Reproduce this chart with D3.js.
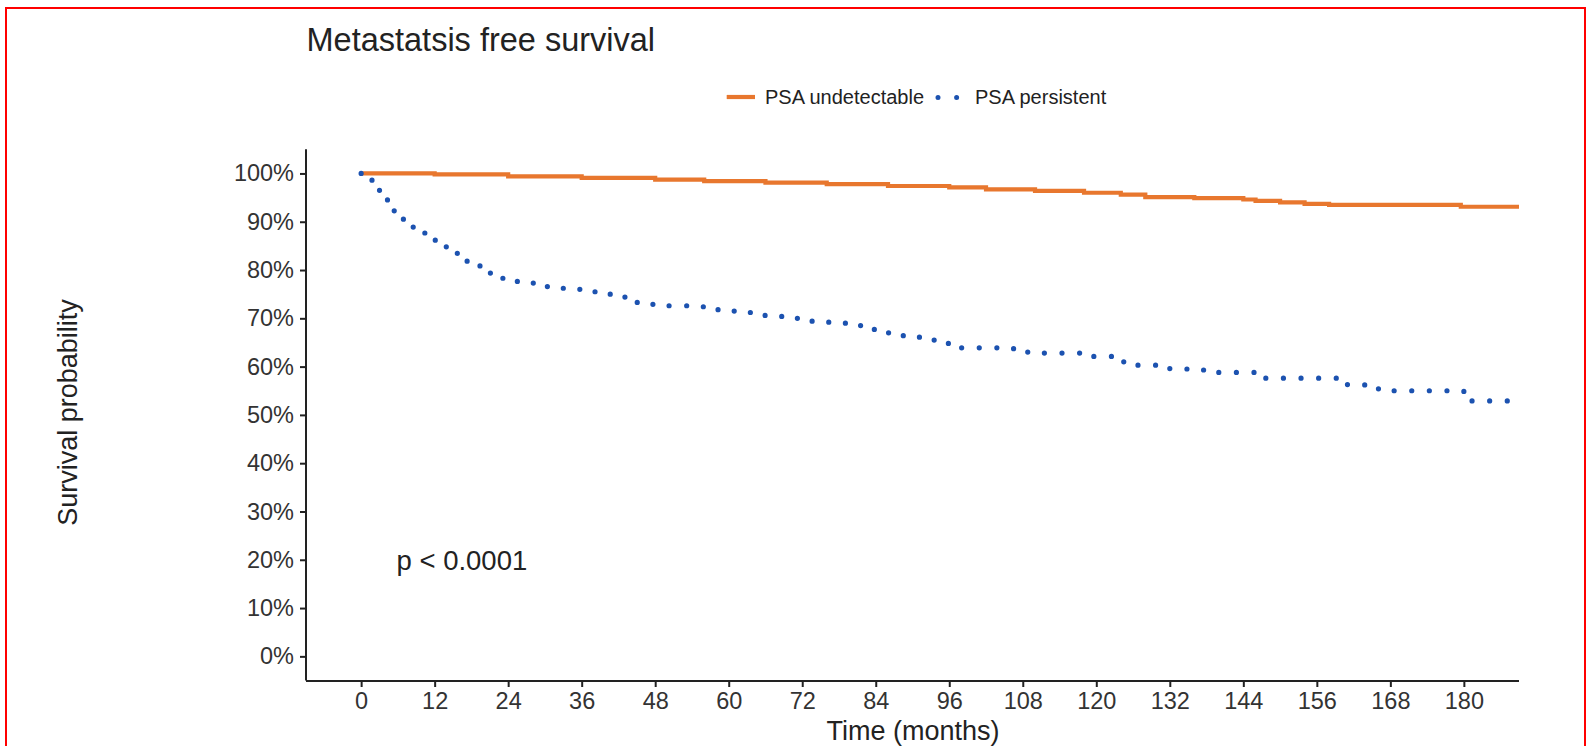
<!DOCTYPE html>
<html>
<head>
<meta charset="utf-8">
<script src="https://cdn.jsdelivr.net/npm/d3@7"></script>
<style>
  html, body { margin: 0; padding: 0; background: #fff; }
  svg { display: block; }
  text { font-family: "Liberation Sans", Arial, Helvetica, sans-serif; }
</style>
</head>
<body>
<svg id="chart" width="1591" height="746"></svg>
<script>
// ---- data ----
const title = "Metastatsis free survival";
const seriesNames = ["PSA undetectable", "PSA persistent"];
const xTicks = [0, 12, 24, 36, 48, 60, 72, 84, 96, 108, 120, 132, 144, 156, 168, 180];
const yTicks = [0, 0.1, 0.2, 0.3, 0.4, 0.5, 0.6, 0.7, 0.8, 0.9, 1.0];
const pText = "p < 0.0001";

const undetectTime = [0, 12, 24, 36, 48, 56, 66, 76, 86, 96, 102, 110, 118, 124, 128, 136, 144, 146, 150, 154, 158, 170, 179.5, 189];
const undetectSurv = [1.000, 0.998, 0.994, 0.991, 0.987, 0.984, 0.981, 0.978, 0.974, 0.971, 0.967, 0.964, 0.960, 0.956, 0.951, 0.949, 0.946, 0.943, 0.940, 0.937, 0.935, 0.935, 0.931, 0.931];

const persistTime = [0, 1.5, 3, 4.3, 5.4, 6.9, 8.5, 10.4, 12.1, 13.9, 15.7, 17.3, 19.4, 21.1, 23.1, 25.5, 28.1, 30.4, 33, 35.8, 39, 41.3, 43.3, 45.9, 49, 55.5, 57.4, 60, 62.4, 64.8, 67.8, 70.1, 72.6, 75.2, 78, 80.3, 82.8, 85.5, 87.7, 90.3, 92.6, 95.1, 97.3, 106.5, 109.1, 117.4, 122.8, 124.3, 126.6, 132, 134.7, 137.3, 139.8, 147.5, 161, 165.9, 168.5, 180, 189];
const persistSurv = [1.000, 0.986, 0.962, 0.939, 0.919, 0.900, 0.888, 0.875, 0.858, 0.845, 0.831, 0.817, 0.806, 0.793, 0.783, 0.776, 0.771, 0.765, 0.760, 0.755, 0.750, 0.744, 0.733, 0.729, 0.726, 0.724, 0.718, 0.715, 0.712, 0.706, 0.704, 0.700, 0.694, 0.692, 0.690, 0.685, 0.677, 0.670, 0.664, 0.661, 0.655, 0.648, 0.639, 0.630, 0.628, 0.621, 0.615, 0.610, 0.603, 0.596, 0.595, 0.593, 0.588, 0.576, 0.562, 0.554, 0.550, 0.529, 0.529];

const colors = ["#E8772E", "#1C52B0"];

// ---- drawing ----
const svg = d3.select("#chart");

// red frame
svg.append("rect")
  .attr("x", 6).attr("y", 8).attr("width", 1579).attr("height", 760)
  .attr("fill", "none").attr("stroke", "#ff0000").attr("stroke-width", 2);

const x = d3.scaleLinear().domain([-9, 189]).range([306, 1519]);
const y = d3.scaleLinear().domain([-0.05, 1.05]).range([680.5, 149.3]);

const textColor = "#333333";

// clip
svg.append("defs").append("clipPath").attr("id", "panel")
  .append("rect").attr("x", 306).attr("y", 140).attr("width", 1519 - 306).attr("height", 545);

const line = d3.line().x(d => x(d[0])).y(d => y(d[1])).curve(d3.curveStepAfter);

const g = svg.append("g").attr("clip-path", "url(#panel)");
g.append("path")
  .datum(undetectTime.map((t, i) => [t, undetectSurv[i]]))
  .attr("d", line).attr("fill", "none")
  .attr("stroke", colors[0]).attr("stroke-width", 4.2);
g.append("path")
  .datum(persistTime.map((t, i) => [t, persistSurv[i]]))
  .attr("d", line).attr("fill", "none")
  .attr("stroke", colors[1]).attr("stroke-width", 5.2)
  .attr("stroke-linecap", "round")
  .attr("stroke-dasharray", "0.01 17.6");

// axes
const xAxis = svg.append("g").attr("transform", "translate(0,681)")
  .call(d3.axisBottom(x).tickValues(xTicks).tickSize(6).tickPadding(5).tickSizeOuter(0));
const yAxis = svg.append("g").attr("transform", "translate(306,0)")
  .call(d3.axisLeft(y).tickValues(yTicks).tickSize(6).tickPadding(6).tickSizeOuter(0)
    .tickFormat(d3.format(".0%")));

[xAxis, yAxis].forEach(ax => {
  ax.select(".domain").attr("stroke", "#222").attr("stroke-width", 2);
  ax.selectAll(".tick line").attr("stroke", "#222").attr("stroke-width", 2);
  ax.selectAll(".tick text").attr("fill", textColor).style("font-size", "23.5px")
    .style("font-family", "'Liberation Sans', Arial, sans-serif");
});
xAxis.select(".domain").attr("d", `M${x(-9)},0H${x(189)}`);
yAxis.select(".domain").attr("d", `M0,${y(-0.05)}V${y(1.05)}`);

// title
svg.append("text").attr("x", 306.5).attr("y", 50.5)
  .attr("fill", "#222").style("font-size", "32.5px").text(title);

// axis titles
svg.append("text").attr("x", 913).attr("y", 740)
  .attr("text-anchor", "middle").attr("fill", "#222").style("font-size", "27px")
  .text("Time (months)");
svg.append("text")
  .attr("transform", "translate(77,412.5) rotate(-90)")
  .attr("text-anchor", "middle").attr("fill", "#222").style("font-size", "27px")
  .text("Survival probability");

// p value
svg.append("text").attr("x", 396.5).attr("y", 570)
  .attr("fill", "#222").style("font-size", "27.5px").text(pText);

// legend
const leg = svg.append("g");
leg.append("line").attr("x1", 726.7).attr("x2", 755).attr("y1", 97).attr("y2", 97)
  .attr("stroke", colors[0]).attr("stroke-width", 4.2);
leg.append("text").attr("x", 765).attr("y", 104.2).attr("fill", "#222")
  .style("font-size", "20px").text(seriesNames[0]);
leg.append("line").attr("x1", 938).attr("x2", 957).attr("y1", 97.5).attr("y2", 97.5)
  .attr("stroke", colors[1]).attr("stroke-width", 5).attr("stroke-linecap", "round")
  .attr("stroke-dasharray", "0.01 18.6");
leg.append("text").attr("x", 975).attr("y", 104.2).attr("fill", "#222")
  .style("font-size", "20px").text(seriesNames[1]);
</script>
</body>
</html>
